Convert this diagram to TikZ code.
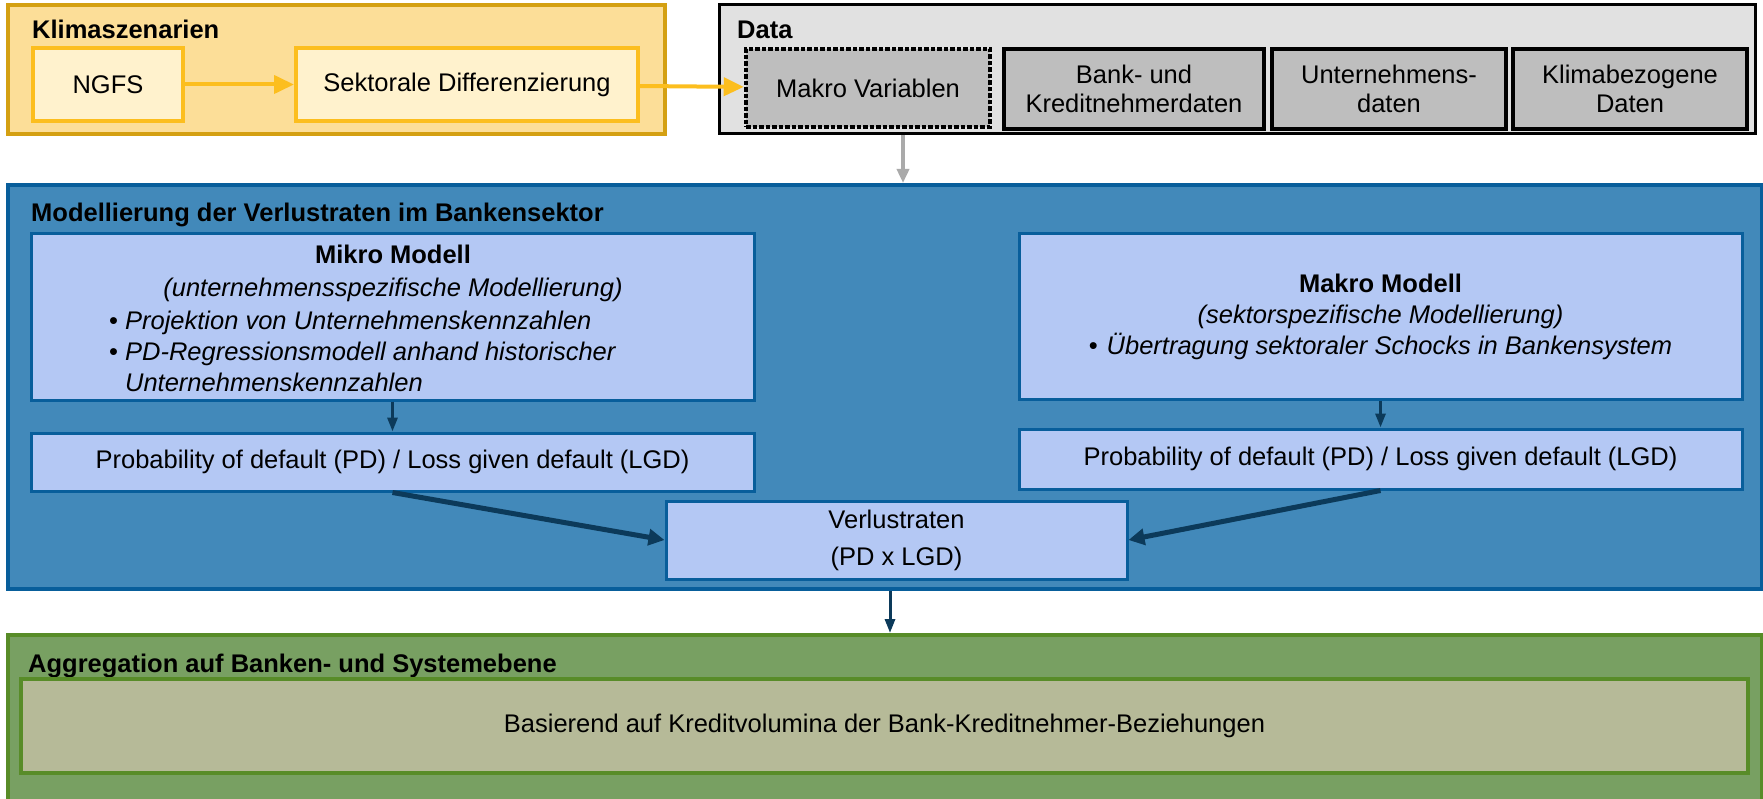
\documentclass[tikz,border=0pt]{standalone}
\usepackage{fontspec}
\setmainfont{Liberation Sans}
\usepackage{xcolor}
\usetikzlibrary{arrows.meta}

\definecolor{klimafill}{RGB}{252,222,152}
\definecolor{klimarand}{RGB}{212,160,18}
\definecolor{klimainnen}{RGB}{255,242,205}
\definecolor{gold}{RGB}{252,190,30}
\definecolor{datafill}{RGB}{225,225,225}
\definecolor{datainnen}{RGB}{190,190,190}
\definecolor{pfeilgrau}{RGB}{170,170,170}
\definecolor{blaufill}{RGB}{66,137,186}
\definecolor{blaurand}{RGB}{8,94,155}
\definecolor{blauinnen}{RGB}{180,200,244}
\definecolor{pfeilblau}{RGB}{12,58,90}
\definecolor{gruenfill}{RGB}{120,160,98}
\definecolor{gruenrand}{RGB}{88,140,40}
\definecolor{grueninnen}{RGB}{182,186,152}

\begin{document}
\begin{tikzpicture}[x=1pt, y=-1pt,
    every node/.style={font=\fontsize{25.5}{29}\selectfont, align=center, inner sep=0pt},
    titel/.style={anchor=base west, font=\fontsize{25.5}{29}\selectfont\bfseries},
    klimabox/.style={draw=gold, line width=4pt, fill=klimainnen},
    databox/.style={draw=black, line width=4.5pt, fill=datainnen},
    modbox/.style={draw=blaurand, line width=3pt, fill=blauinnen, font=\fontsize{25.5}{31}\selectfont},
    goldpfeil/.style={draw=gold, line width=4pt, -{Triangle[length=20pt, width=18pt]}},
    blaupfeil/.style={draw=pfeilblau, line width=3pt, -{Triangle[length=14pt, width=10pt]}}]
    \useasboundingbox (0,0) rectangle (1763,799);

    % Klimaszenarien
    \node[draw=klimarand, line width=4pt, fill=klimafill, minimum width=657pt, minimum height=129pt] (klima) at (336.5,69.5) {};
    \node[titel] (klimatitel) at (32,39) {Klimaszenarien};
    \node[klimabox, minimum width=150pt, minimum height=73pt] (ngfs) at (108,84.5) {NGFS};
    \node[klimabox, minimum width=342pt, minimum height=73pt] (sektor) at (467,84.5) {Sektorale Differenzierung};

    % Data
    \node[draw=black, line width=3pt, fill=datafill, minimum width=1036pt, minimum height=129pt] (data) at (1237,69.5) {};
    \node[titel] (datatitel) at (737,39) {Data};
    \node[databox, dotted, minimum width=244pt, minimum height=78pt] (makrovar) at (868,88) {Makro Variablen};
    \node[databox, minimum width=260pt, minimum height=80pt] (bankdat) at (1134,89) {Bank- und\\Kreditnehmerdaten};
    \node[databox, minimum width=234pt, minimum height=80pt] (untdat) at (1389,89) {Unternehmens-\\daten};
    \node[databox, minimum width=234pt, minimum height=80pt] (klimadat) at (1630,89) {Klimabezogene\\Daten};

    \draw[goldpfeil] (ngfs) -- (sektor);
    \draw[goldpfeil] (sektor) -- (makrovar);

    % Modellierung
    \node[draw=blaurand, line width=4pt, fill=blaufill, minimum width=1754pt, minimum height=404pt] (modell) at (885,387) {};
    \node[titel] (modelltitel) at (31,222) {Modellierung der Verlustraten im Bankensektor};
    \draw[draw=pfeilgrau, line width=3.5pt, -{Triangle[length=14pt, width=12pt]}] (903,0 |- data.south) -- (903,0 |- modell.north);

    \node[modbox, minimum width=723pt, minimum height=166pt] (mikro) at (392.5,317) {};
    \node[font=\fontsize{25.5}{33}\selectfont] (mikrokopf) at (393,273.5) {\textbf{Mikro Modell}\\\textit{(unternehmensspezifische Modellierung)}};
    \node[anchor=west, align=left, font=\fontsize{25.5}{31}\selectfont] (mikroliste) at (109,351) {\textbullet\hspace{7pt}\textit{Projektion von Unternehmenskennzahlen}\\
        \textbullet\hspace{7pt}\textit{PD-Regressionsmodell anhand historischer}\\
        \phantom{\textbullet}\hspace{7pt}\textit{Unternehmenskennzahlen}};
    \node[modbox, minimum width=723pt, minimum height=165pt] (makro) at (1380.5,316.5) {\textbf{Makro Modell}\\\textit{(sektorspezifische Modellierung)}\\\textbullet\hspace{9pt}\textit{Übertragung sektoraler Schocks in Bankensystem}};

    \node[modbox, minimum width=723pt, minimum height=58pt] (pdl) at (392.5,462) {Probability of default (PD) / Loss given default (LGD)};
    \node[modbox, minimum width=723pt, minimum height=60pt] (pdr) at (1380.5,459) {Probability of default (PD) / Loss given default (LGD)};
    \node[modbox, minimum width=461pt, minimum height=78pt] (verl) at (896.5,540) {Verlustraten\\[6pt](PD x LGD)};

    \draw[blaupfeil] (mikro) -- (pdl);
    \draw[blaupfeil] (makro) -- (pdr);
    \draw[blaupfeil, line width=5pt, -{Triangle[length=16pt, width=16pt]}] (pdl.south) -- (verl.west);
    \draw[blaupfeil, line width=5pt, -{Triangle[length=16pt, width=16pt]}] (pdr.south) -- (verl.east);

    % Aggregation
    \node[draw=gruenrand, line width=4pt, fill=gruenfill, minimum width=1754pt, minimum height=180pt] (aggr) at (885,725) {};
    \node[titel] (aggrtitel) at (28,672) {Aggregation auf Banken- und Systemebene};
    \node[draw=gruenrand, line width=4pt, fill=grueninnen, minimum width=1727pt, minimum height=94pt] (basis) at (884.5,726) {Basierend auf Kreditvolumina der Bank-Kreditnehmer-Beziehungen};
    \draw[blaupfeil] (890,0 |- modell.south) -- (890,0 |- aggr.north);
\end{tikzpicture}
\end{document}
